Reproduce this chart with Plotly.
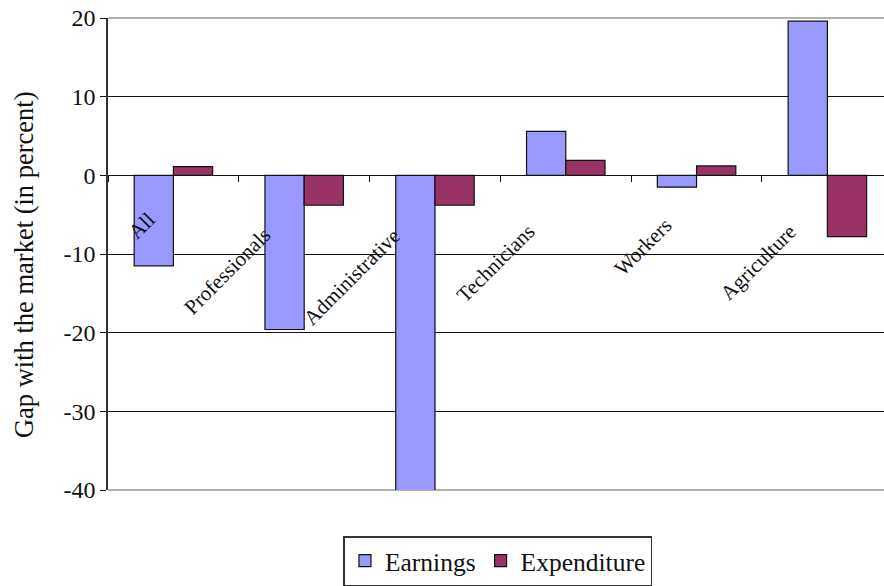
import plotly.graph_objects as go

categories = ["All", "Professionals", "Administrative", "Technicians", "Workers", "Agriculture"]
earnings = [-11.5, -19.6, -40.6, 5.6, -1.5, 19.6]
expenditure = [1.1, -3.8, -3.8, 1.9, 1.2, -7.8]
y_tickvals = [-40, -30, -20, -10, 0, 10, 20]
y_ticktext = ["-40", "-30", "-20", "-10", "0", "10", "20"]
y_title = "Gap with the market (in percent)"

FONT = "Liberation Serif"
INK = "#111111"

fig = go.Figure()
fig.add_trace(go.Bar(x=categories, y=earnings, name="Earnings", cliponaxis=False,
                     marker=dict(color="#9999FF", line=dict(color=INK, width=1.2))))
fig.add_trace(go.Bar(x=categories, y=expenditure, name="Expenditure", cliponaxis=False,
                     marker=dict(color="#993366", line=dict(color=INK, width=1.2))))

# rotated category labels hanging below the zero line (Excel-style placement:
# longer labels sit a little further down-left)
for c in categories:
    n = len(c)
    fig.add_annotation(x=c, y=0, xref="x", yref="y", text=c, showarrow=False,
                       textangle=-45, xanchor="right", yanchor="top",
                       xshift=-7 - 1.45 * n, yshift=-(25 + 1.5 * n),
                       font=dict(family=FONT, size=21, color=INK))

# y-axis title (sits slightly below the plot's vertical centre, as in the original)
fig.add_annotation(x=-0.108, y=0.477, xref="paper", yref="paper", text=y_title,
                   showarrow=False, textangle=-90, xanchor="center", yanchor="middle",
                   font=dict(family=FONT, size=26.5, color=INK))

fig.update_layout(
    width=884, height=586,
    margin=dict(l=108, r=0, t=18, b=96, autoexpand=False),
    paper_bgcolor="white", plot_bgcolor="white",
    barmode="group", bargap=0.40, bargroupgap=0,
    font=dict(family=FONT, color=INK),
    showlegend=True,
    legend=dict(orientation="h", xref="container", yref="container",
                x=0.5633, xanchor="center", y=0.0853, yanchor="top",
                bordercolor="#333333", borderwidth=1.5,
                font=dict(family=FONT, size=25.5, color=INK),
                itemwidth=30, tracegroupgap=0),
    xaxis=dict(type="category", range=[-0.5, 5.433], anchor="free", position=2/3,
               showline=True, linecolor=INK, linewidth=1,
               ticks="outside", tickson="boundaries", ticklen=6, tickcolor=INK,
               showticklabels=False, showgrid=False, zeroline=False),
    yaxis=dict(range=[-40, 20], tickvals=y_tickvals, ticktext=y_ticktext,
               showgrid=True, gridcolor=INK, gridwidth=1, zeroline=False,
               showline=True, linecolor="#333333", linewidth=1.5,
               ticks="outside", ticklen=6, tickcolor=INK,
               tickfont=dict(family=FONT, size=24, color=INK)),
    shapes=[
        dict(type="line", xref="paper", yref="paper", x0=0, x1=1, y0=1, y1=1,
             line=dict(color="#999999", width=1.5), layer="below"),
        dict(type="line", xref="paper", yref="paper", x0=0, x1=1, y0=0, y1=0,
             line=dict(color="#999999", width=1.5), layer="below"),
    ],
)

# remove the browser's default 8px body margin so the figure fills the window
fig.write_html("out.html",
               config={"displayModeBar": False},
               post_script="document.body.style.margin='0';document.body.style.overflow='hidden';")
